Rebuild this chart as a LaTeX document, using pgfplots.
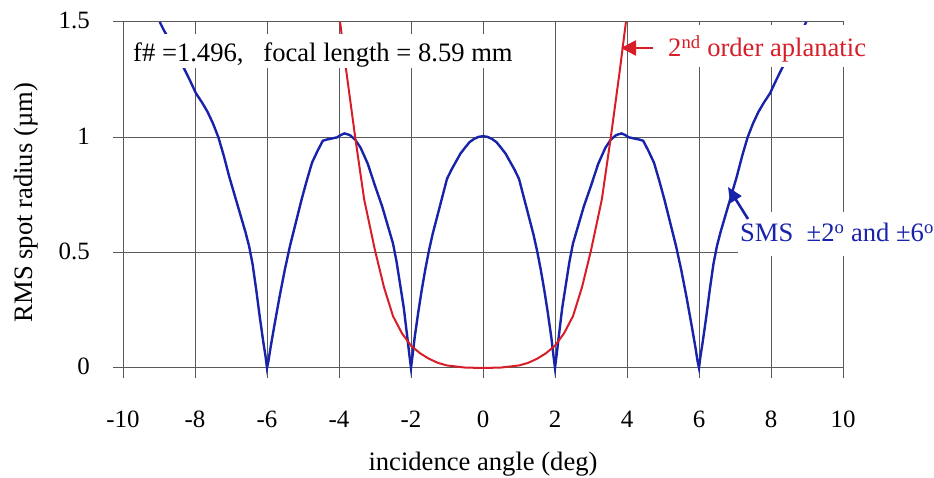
\documentclass[border=0pt]{standalone}
\usepackage{pgfplots}
\pgfplotsset{compat=1.18}
\usepackage{fontspec}
\setmainfont{Liberation Serif}
\usetikzlibrary{arrows.meta}
\definecolor{smsblue}{RGB}{25,35,170}
\definecolor{aplred}{RGB}{215,30,40}
\definecolor{gridc}{RGB}{90,90,90}

\pgfplotstableread{
x y
-8.98 1.50
-8.85 1.46
-8.70 1.42
-8.50 1.36
-8.34 1.31
-8.15 1.25
-7.97 1.19
-7.80 1.15
-7.65 1.11
-7.50 1.06
-7.35 1.00
-7.20 0.92
-7.05 0.83
-6.90 0.75
-6.75 0.67
-6.60 0.59
-6.50 0.53
-6.40 0.45
-6.30 0.34
-6.20 0.22
-6.10 0.11
-6.04 0.05
-6.00 0.00
-5.96 0.03
-5.90 0.09
-5.80 0.18
-5.65 0.31
-5.50 0.43
-5.36 0.53
-5.20 0.63
-5.04 0.73
-4.90 0.81
-4.75 0.89
-4.60 0.94
-4.45 0.985
-4.35 0.99
-4.20 0.995
-4.05 1.00
-3.95 1.01
-3.85 1.017
-3.70 1.01
-3.55 0.99
-3.40 0.955
-3.20 0.885
-3.00 0.79
-2.80 0.70
-2.65 0.62
-2.50 0.54
-2.40 0.46
-2.30 0.36
-2.20 0.26
-2.10 0.13
-2.04 0.05
-2.00 0.00
-1.96 0.05
-1.90 0.13
-1.80 0.24
-1.70 0.34
-1.60 0.43
-1.50 0.51
-1.40 0.58
-1.30 0.64
-1.20 0.70
-1.10 0.76
-1.00 0.82
-0.875 0.86
-0.75 0.895
-0.625 0.93
-0.50 0.955
-0.375 0.979
-0.25 0.993
-0.125 1.002
0.00 1.005
0.125 1.002
0.25 0.993
0.375 0.979
0.50 0.955
0.625 0.93
0.75 0.895
0.875 0.86
1.00 0.82
1.10 0.76
1.20 0.70
1.30 0.64
1.40 0.58
1.50 0.51
1.60 0.43
1.70 0.34
1.80 0.24
1.90 0.13
1.96 0.05
2.00 0.00
2.04 0.05
2.10 0.13
2.20 0.26
2.30 0.36
2.40 0.46
2.50 0.54
2.65 0.62
2.80 0.70
3.00 0.79
3.20 0.885
3.40 0.955
3.55 0.99
3.70 1.01
3.85 1.017
3.95 1.01
4.05 1.00
4.20 0.995
4.35 0.99
4.45 0.985
4.60 0.94
4.75 0.89
4.90 0.81
5.04 0.73
5.20 0.63
5.36 0.53
5.50 0.43
5.65 0.31
5.80 0.18
5.90 0.09
5.96 0.03
6.00 0.00
6.04 0.05
6.10 0.11
6.20 0.22
6.30 0.34
6.40 0.45
6.50 0.53
6.60 0.59
6.75 0.67
6.90 0.75
7.05 0.83
7.20 0.92
7.35 1.00
7.50 1.06
7.65 1.11
7.80 1.15
7.97 1.19
8.15 1.25
8.34 1.31
8.50 1.36
8.70 1.42
8.85 1.46
8.98 1.50
}\smsdata

\pgfplotstableread{
x y
-3.97 1.50
-3.80 1.29
-3.55 1.00
-3.30 0.73
-3.00 0.51
-2.75 0.35
-2.50 0.225
-2.25 0.15
-2.00 0.097
-1.75 0.064
-1.50 0.040
-1.25 0.022
-1.00 0.011
-0.50 0.002
0.00 0.000
0.50 0.002
1.00 0.011
1.25 0.022
1.50 0.040
1.75 0.064
2.00 0.097
2.25 0.15
2.50 0.225
2.75 0.35
3.00 0.51
3.30 0.73
3.55 1.00
3.80 1.29
3.97 1.50
}\apldata

\begin{document}
\begin{tikzpicture}
\useasboundingbox (0bp,0bp) rectangle (934bp,478bp);
\begin{axis}[
  at={(123bp,110bp)}, anchor=south west,
  scale only axis, width=720bp, height=346bp,
  xmin=-10, xmax=10, ymin=0, ymax=1.5,
  xtick={-10,-8,-6,-4,-2,0,2,4,6,8,10},
  xticklabels={-10,-8,-6,-4,-2,0,2,4,6,8,10},
  ytick={0,0.5,1,1.5},
  yticklabels={0,0.5,1,1.5},
  grid=major,
  grid style={gridc, line width=1bp},
  axis line style={gridc, line width=1bp},
  tick style={gridc, line width=1bp},
  tick align=outside,
  major tick length=10bp,
  xtick pos=left, ytick pos=left,
  ticklabel style={font=\fontsize{25}{29}\selectfont},
  xticklabel style={anchor=base, yshift=-49bp},
  yticklabel style={anchor=base east, inner sep=0pt, xshift=-23bp, yshift=-7bp},
  xlabel={incidence angle (deg)},
  ylabel={RMS spot radius (µm)},
  label style={font=\fontsize{26.7}{30}\selectfont},
  xlabel style={at={(axis description cs:0.5,-0.2948)}, anchor=base},
  ylabel style={at={(axis description cs:-0.125,0.478)}, anchor=base},
  clip=false,
]
\addplot[smsblue, line width=2.4bp] table[x=x,y=y] {\smsdata};
\addplot[aplred, line width=2bp] table[x=x,y=y] {\apldata};
\end{axis}
\node[fill=white, inner sep=0pt, inner xsep=5bp, text height=28bp, text depth=6bp,
      anchor=base west, font=\fontsize{26.7}{30}\selectfont]
  at (128bp,416bp) {f\# =1.496,\ \ \ focal length = 8.59 mm};
\node[fill=white, inner sep=0pt, inner xsep=4bp, text height=32bp, text depth=10bp,
      anchor=base west, text=aplred, font=\fontsize{26.7}{30}\selectfont]
  at (664bp,421bp) {2\textsuperscript{nd} order aplanatic};
\draw[aplred, line width=2.6bp, -{Triangle[length=15bp,width=15bp]}] (653bp,430bp) -- (621bp,430bp);
\node[fill=white, inner sep=0pt, inner xsep=2bp, text height=30bp, text depth=14bp,
      anchor=base west, text=smsblue, font=\fontsize{26.7}{30}\selectfont]
  at (738bp,236bp) {SMS\ \ ±2\textsuperscript{o} and ±6\textsuperscript{o}};
\draw[smsblue, line width=2.6bp, -{Triangle[length=15bp,width=13bp]}] (748bp,259bp) -- (728bp,291bp);
\end{tikzpicture}
\end{document}
